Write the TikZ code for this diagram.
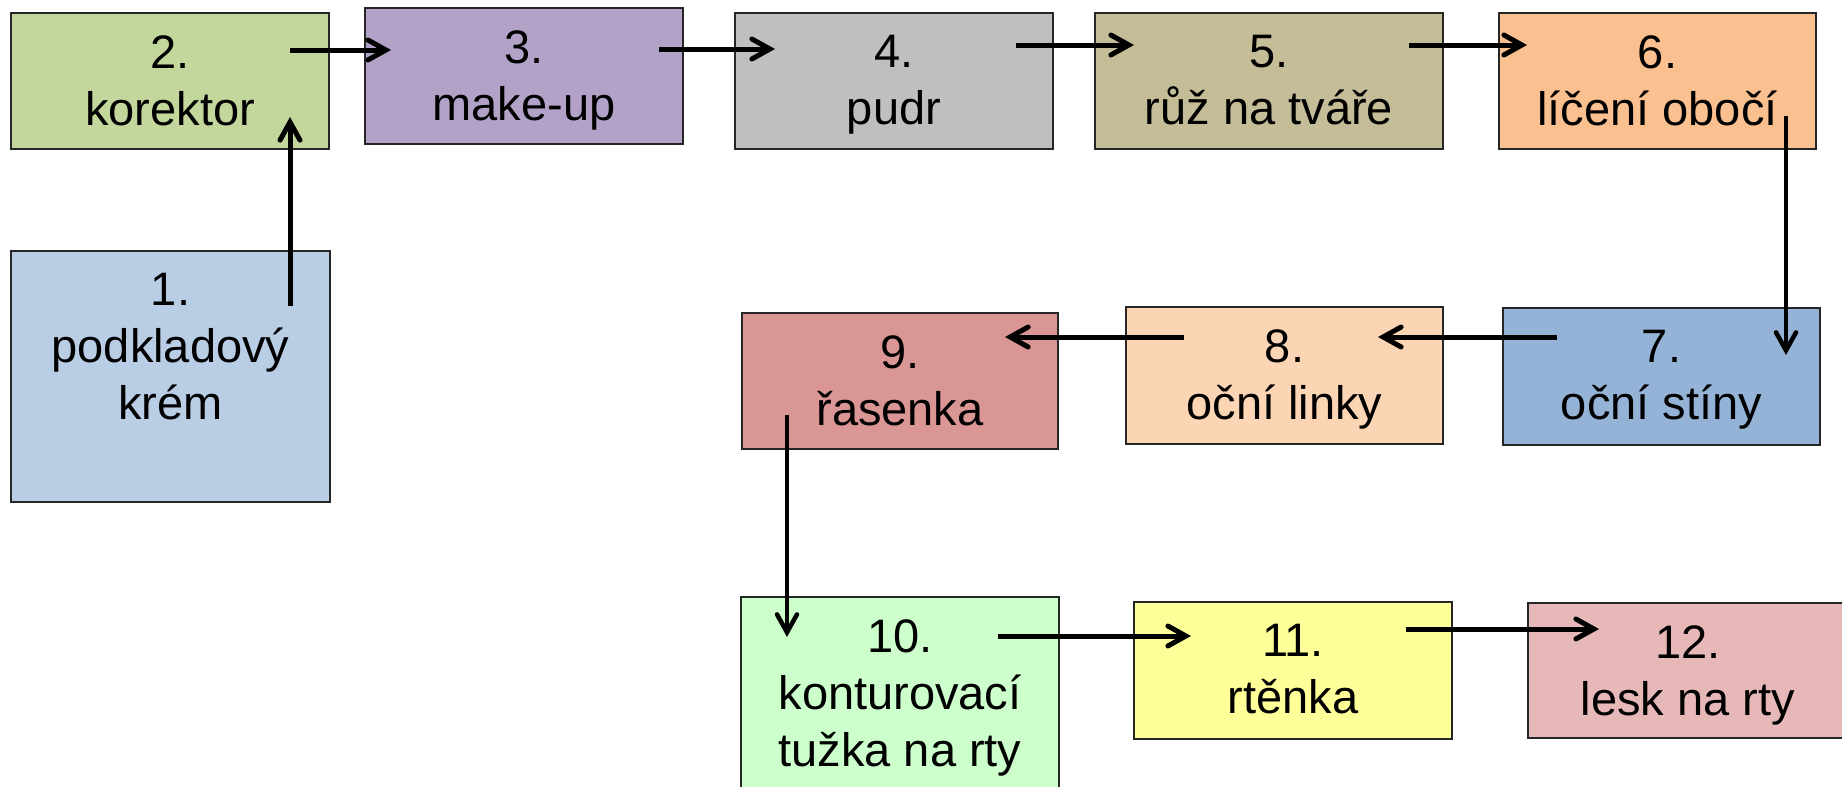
\documentclass[tikz,border=0pt]{standalone}
\usepackage{fontspec}
\setmainfont{Liberation Sans}
\usepackage{tikz}
\usetikzlibrary{arrows.meta,positioning}

\definecolor{krem}{HTML}{B9CDE5}
\definecolor{korektor}{HTML}{C3D69B}
\definecolor{makeup}{HTML}{B3A2C7}
\definecolor{pudr}{HTML}{BFBFBF}
\definecolor{ruz}{HTML}{C4BD97}
\definecolor{oboci}{HTML}{FAC090}
\definecolor{stiny}{HTML}{95B3D7}
\definecolor{linky}{HTML}{FCD5B5}
\definecolor{rasenka}{HTML}{D99694}
\definecolor{tuzka}{HTML}{CCFFCC}
\definecolor{rtenka}{HTML}{FFFF99}
\definecolor{lesk}{HTML}{E6B9B8}

\begin{document}
\begin{tikzpicture}[
    x = 1pt, y = -1pt,
    %
    stepbox/.style = {draw = black!85,
      line width = 2pt,
      inner sep = 0pt},
    %
    steptext/.style = {align = center,
      inner sep = 0pt,
      font = \fontsize{47}{57}\selectfont},
    %
    flow/.style = {line width = 5pt,
      -{Straight Barb[length = 18pt, width = 20pt, line cap = round]}},
    thinflow/.style = {flow, line width = 4.5pt},
    ]

    \useasboundingbox (0, 0) rectangle (1842, 787);
    \clip (0, 0) rectangle (1842, 787);

    \node at (170.5, 376.5)
    [stepbox, fill = krem, minimum width = 319pt, minimum height = 251pt, name = b1] {};
    \node at (170, 81)
    [stepbox, fill = korektor, minimum width = 318pt, minimum height = 136pt, name = b2] {};
    \node at (524, 76)
    [stepbox, fill = makeup, minimum width = 318pt, minimum height = 136pt, name = b3] {};
    \node at (894, 81)
    [stepbox, fill = pudr, minimum width = 318pt, minimum height = 136pt, name = b4] {};
    \node at (1269, 81)
    [stepbox, fill = ruz, minimum width = 348pt, minimum height = 136pt, name = b5] {};
    \node at (1657.5, 81)
    [stepbox, fill = oboci, minimum width = 317pt, minimum height = 136pt, name = b6] {};

    \node at (1661.5, 376.5)
    [stepbox, fill = stiny, minimum width = 317pt, minimum height = 137pt, name = b7] {};
    \node at (1284.5, 375.5)
    [stepbox, fill = linky, minimum width = 317pt, minimum height = 137pt, name = b8] {};
    \node at (900, 381)
    [stepbox, fill = rasenka, minimum width = 316pt, minimum height = 136pt, name = b9] {};

    \node at (900, 698.5)
    [stepbox, fill = tuzka, minimum width = 318pt, minimum height = 203pt, name = b10] {};
    \node at (1293, 670.5)
    [stepbox, fill = rtenka, minimum width = 318pt, minimum height = 137pt, name = b11] {};
    \node at (1688, 670.5)
    [stepbox, fill = lesk, minimum width = 320pt, minimum height = 135pt, name = b12] {};

    % texts
    \node [steptext, anchor = north, below = 23pt of b1.north, name = t1] {1.\\podkladový\\krém};
    \node [steptext, anchor = north, below = 23pt of b2.north, name = t2] {2.\\korektor};
    \node [steptext, anchor = north, below = 23pt of b3.north, name = t3] {3.\\make-up};
    \node [steptext, anchor = north, below = 23pt of b4.north, name = t4] {4.\\pudr};
    \node [steptext, anchor = north, below = 23pt of b5.north, name = t5] {5.\\růž na tváře};
    \node [steptext, anchor = north, below = 23pt of b6.north, name = t6] {6.\\líčení obočí};
    \node [steptext, anchor = north, below = 23pt of b7.north, name = t7] {7.\\oční stíny};
    \node [steptext, anchor = north, below = 23pt of b8.north, name = t8] {8.\\oční linky};
    \node [steptext, anchor = north, below = 23pt of b9.north, name = t9] {9.\\řasenka};
    \node [steptext, anchor = north, below = 23pt of b10.north, name = t10] {10.\\konturovací\\tužka na rty};
    \node [steptext, anchor = north, below = 23pt of b11.north, name = t11] {11.\\rtěnka};
    \node [steptext, anchor = north, below = 23pt of b12.north, name = t12] {12.\\lesk na rty};

    % arrows
    \draw [flow] ([shift = {(-41, 56)}] b1.north east) -- ([shift = {(-40, -33)}] b2.south east);
    \draw [flow] ([shift = {(-40, 38)}] b2.north east) -- ([shift = {(27, 43)}] b3.north west);
    \draw [flow] ([shift = {(-25, 42)}] b3.north east) -- ([shift = {(41, 37)}] b4.north west);
    \draw [flow] ([shift = {(-38, 33)}] b4.north east) -- ([shift = {(40, 33)}] b5.north west);
    \draw [flow] ([shift = {(-35, 33)}] b5.north east) -- ([shift = {(29, 33)}] b6.north west);
    \draw [thinflow] ([shift = {(-31, -34)}] b6.south east) -- ([shift = {(-35, 48)}] b7.north east);
    \draw [flow] ([shift = {(55, 30)}] b7.north west) -- ([shift = {(-66, 31)}] b8.north east);
    \draw [flow] ([shift = {(59, 31)}] b8.north west) -- ([shift = {(-54, 25)}] b9.north east);
    \draw [thinflow] ([shift = {(46, -35)}] b9.south west) -- ([shift = {(47, 41)}] b10.north west);
    \draw [flow] ([shift = {(-62, 40)}] b10.north east) -- ([shift = {(58, 35)}] b11.north west);
    \draw [flow] ([shift = {(-47, 28)}] b11.north east) -- ([shift = {(72, 27)}] b12.north west);

  \end{tikzpicture}
\end{document}
